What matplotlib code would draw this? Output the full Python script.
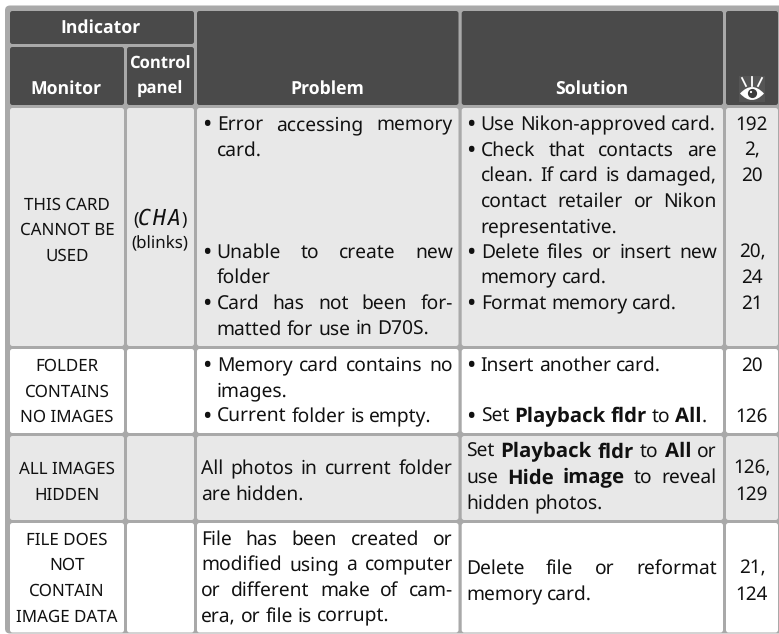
import matplotlib
matplotlib.use("Agg")
import matplotlib.pyplot as plt
from matplotlib import font_manager as fm
from matplotlib.patches import FancyBboxPatch, Rectangle, PathPatch, Circle
from matplotlib.path import Path
import re

plt.rcParams["text.hinting"] = "no_hinting"
W, H = 779, 634
FONT = "Noto Sans"
FS = 13.85      # body text
FSB = 14.7      # bold runs in the body
FSM = 12.2      # monitor / control columns
FSP = 13.6      # page numbers
FSH = 12.7      # headers

have_bold = sorted({(f.name, str(f.weight)) for f in fm.fontManager.ttflist
                    if f.name in ("Noto Sans", "Open Sans", "Lato", "Roboto", "Inter")})
BOLD = None
for name in ("Noto Sans", "Open Sans", "Lato", "Roboto", "Inter"):
    if any(n == name and w in ("bold", "700", "800", "semibold", "600") for n, w in have_bold):
        BOLD = name
        break

# ---- layout ----
col_x = [(10, 124), (127, 194), (197, 458.5), (461.7, 723), (726, 778)]
row_y = [(108, 346), (349, 433), (436, 520), (523, 632.5)]
row_fill = ["#e8e8e8", "#ffffff", "#e8e8e8", "#ffffff"]

# ---- content ----
headers = [("Indicator", 101, 32.7, FSH), ("Monitor", 66, 94, FSH), ("Control", 160, 69, 12.0), ("panel", 160, 94, 12.0),
           ("Problem", 327, 94, FSH), ("Solution", 592, 94, FSH)]
monitor = [("THIS CARD", 209.5), ("CANNOT BE", 235), ("USED", 260.5),
           ("FOLDER", 371), ("CONTAINS", 396.5), ("NO IMAGES", 422),
           ("ALL IMAGES", 474), ("HIDDEN", 499.5),
           ("FILE DOES", 544.5), ("NOT", 570), ("CONTAIN", 595.7), ("IMAGE DATA", 621.5)]
pages = [("192", 130), ("2,", 155.5), ("20", 181), ("20,", 257.5), ("24", 283), ("21", 309),
         ("20", 371), ("126", 422), ("126,", 474), ("129", 499.5), ("21,", 574), ("124", 600)]
problem = [("Error accessing memory", 130, True, True), ("card.", 155.5, "in", False),
           ("Unable to create new", 257.5, True, True), ("folder", 283, "in", False),
           ("Card has not been for-", 309, True, True), ("matted for use in D70S.", 334.5, "in", False),
           ("Memory card contains no", 371, True, True), ("images.", 396.5, "in", False),
           ("Current folder is empty.", 422, True, False),
           ("All photos in current folder", 474, False, True), ("are hidden.", 499.5, False, False),
           ("File has been created or", 544.5, False, True), ("modified using a computer", 570, False, True),
           ("or different make of cam-", 595.7, False, True), ("era, or file is corrupt.", 621.5, False, False)]
solution = [("Use Nikon-approved card.", 130, True, False),
            ("Check that contacts are", 155.5, True, True),
            ("clean. If card is damaged,", 181, "in", True),
            ("contact retailer or Nikon", 206.5, "in", True),
            ("representative.", 232, "in", False),
            ("Delete files or insert new", 257.5, True, True),
            ("memory card.", 283, "in", False),
            ("Format memory card.", 309, True, False),
            ("Insert another card.", 371, True, False),
            ("Set **Playback fldr** to **All**.", 422, True, False),
            ("Set **Playback fldr** to **All** or", 457.3, False, True),
            ("use **Hide image** to reveal", 483.3, False, True),
            ("hidden photos.", 509, False, False),
            ("Delete file or reformat", 574, False, True),
            ("memory card.", 600, False, False)]

fig = plt.figure(figsize=(W / 100, H / 100), dpi=100)
ax = fig.add_axes([0, 0, 1, 1])
ax.set_xlim(0, W)
ax.set_ylim(H, 0)
ax.axis("off")
renderer = fig.canvas.get_renderer()
TXT = "#111111"


def box(x0, y0, x1, y1, color, r=2.5, z=1):
    ax.add_patch(FancyBboxPatch((x0 + r, y0 + r), x1 - x0 - 2 * r, y1 - y0 - 2 * r,
                                boxstyle=f"round,pad={r},rounding_size={r}", fc=color, ec="none", zorder=z))


def t(x, y, s, ha="left", bold=False, color=TXT, size=None):
    if size is None:
        size = FSB if bold else FS
    return ax.text(x, y, s, ha=ha, va="baseline", family=BOLD if bold and BOLD else FONT,
                   fontsize=size, fontweight="bold" if bold else "normal", color=color)


def width(s, bold=False):
    a = t(0, 0, s, bold=bold)
    w = a.get_window_extent(renderer).width
    a.remove()
    return w


def line(s, y, x0, x1, just):
    # a word is a list of (fragment, bold) pieces
    words, cur, bold = [], [], False
    for tok in re.split(r"(\*\*| )", s):
        if tok == "**":
            bold = not bold
        elif tok == " ":
            if cur:
                words.append(cur)
                cur = []
        elif tok:
            cur.append((tok, bold))
    if cur:
        words.append(cur)
    ws = [sum(width(f, b) for f, b in w) for w in words]
    sp = width("a a") - width("a") * 2
    gap = (x1 - x0 - sum(ws)) / (len(words) - 1) if just else sp
    x = x0
    for w, wd in zip(words, ws):
        xx = x
        for f, b in w:
            t(xx, y, f, bold=b)
            xx += width(f, b)
        x += wd + gap


def column(lines, xt, xb, xr):
    for s, y, bullet, just in lines:
        if bullet is True:
            t(xb, y + 2.2, "\u2022", ha="center", size=FS * 1.3)
            line(s, y, xb + 10, xr, just)
        elif bullet == "in":
            line(s, y, xb + 10, xr, just)
        else:
            line(s, y, xt, xr, just)


# frame
box(5, 5.5, 790, 633.5, "#a9a9a9", r=5, z=0)

# header cells
HC = "#4a4a4a"
box(10, 11, 194, 44, HC)
box(col_x[0][0], 47, col_x[0][1], 105, HC)
box(col_x[1][0], 47, col_x[1][1], 105, HC)
for c in col_x[2:]:
    box(c[0], 11, c[1], 105, HC)
# body cells
for (y0, y1), fc in zip(row_y, row_fill):
    for x0, x1 in col_x:
        box(x0, y0, x1, y1, fc)

for s, x, y, sz in headers:
    t(x, y, s, ha="center", bold=True, color="white", size=sz)
for s, y in monitor:
    t(67, y, s, ha="center", size=FSM)
for s, y in pages:
    t(752, y, s, ha="center", size=FSP)

column(problem, 201, 206.7, 453)
column(solution, 466, 470.7, 717)

# control-panel indicator
t(135.5, 225, "(", ha="center", size=13)
t(184, 225, ")", ha="center", size=13)
for s, x in zip(["C", "H", "A"], [144.5, 159, 173.5]):
    ax.text(x, 225, s, ha="center", va="baseline", family="DejaVu Sans Mono",
            fontsize=15.5, style="italic", color=TXT)
t(160, 248, "(blinks)", ha="center", size=FSM)

# reference-page eye icon
ax.add_patch(Rectangle((739, 76), 26, 26, fc="#555555", ec="none", zorder=2))
eye = Path([(740, 93.5), (752, 80.5), (764, 93.5), (752, 106.5), (740, 93.5)],
           [Path.MOVETO, Path.CURVE3, Path.CURVE3, Path.CURVE3, Path.CURVE3])
ax.add_patch(PathPatch(eye, fc="white", ec="none", zorder=3))
ax.add_patch(Circle((752.5, 93.5), 4.6, fc="#3a3a3a", ec="none", zorder=4))
ax.add_patch(Circle((751, 92), 1.1, fc="white", ec="none", zorder=5))
ax.plot([742, 746], [78, 86], color="white", lw=1.3, zorder=3)
ax.plot([752, 752], [76.5, 85.5], color="white", lw=1.3, zorder=3)
ax.plot([762, 758], [78, 86], color="white", lw=1.3, zorder=3)

fig.savefig("out.png", dpi=100, facecolor="white")
